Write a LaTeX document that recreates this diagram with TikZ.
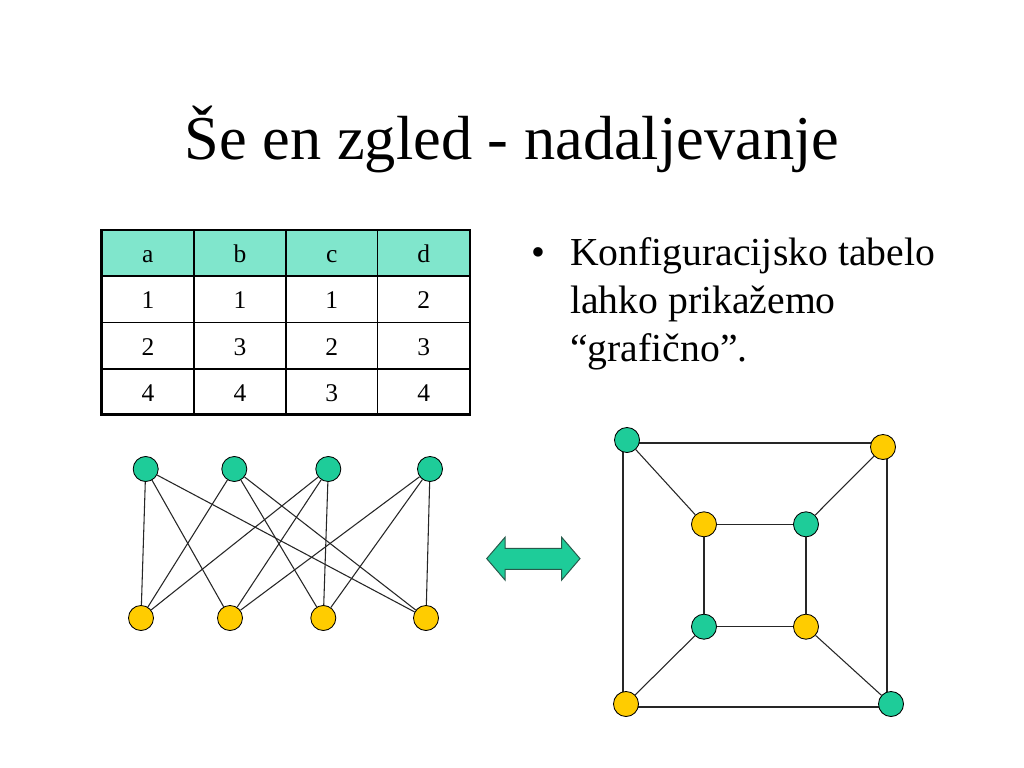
\documentclass[tikz,border=0pt]{standalone}
\usepackage{fontspec}
\setmainfont{Liberation Serif}
\usetikzlibrary{backgrounds}
\definecolor{nodegreen}{RGB}{30,204,153}
\definecolor{nodeyellow}{RGB}{255,204,0}
\definecolor{headteal}{RGB}{128,230,204}
\definecolor{arrowedge}{RGB}{40,90,75}
\begin{document}
\begin{tikzpicture}[x=0.703125bp,y=-0.703125bp,
  vtx/.style={circle,draw=black,line width=0.6bp,inner sep=0pt,minimum size=17.6bp},
  gv/.style={vtx,fill=nodegreen},
  yv/.style={vtx,fill=nodeyellow},
  edge/.style={line width=0.75bp,draw=black!85},
  cell/.style={anchor=base,inner sep=0pt,font=\fontsize{18}{21}\selectfont},
  body/.style={anchor=base west,inner sep=0pt,font=\fontsize{28}{34}\selectfont},
]
\useasboundingbox (0,0) rectangle (1024,768);

% title
\node[anchor=base,inner sep=0pt,font=\fontsize{44}{52}\selectfont] (title) at (512,160) {Še en zgled - nadaljevanje};

% bullet text
\node[anchor=base,inner sep=0pt,font=\fontsize{28}{34}\selectfont] (bullet) at (538,265) {•};
\node[body] (line1) at (570,265) {Konfiguracijsko tabelo};
\node[body] (line2) at (570,313) {lahko prikažemo};
\node[body] (line3) at (570,361) {“grafično”.};

% table
\fill[headteal] (101.7,230) rectangle (470,276);
\draw[line width=1bp]
  (194,230) -- (194,414.3)
  (286,230) -- (286,414.3)
  (377.3,230) -- (377.3,414.3)
  (101.7,276) -- (470,276)
  (101.7,322.3) -- (470,322.3)
  (101.7,369) -- (470,369);
\draw[line width=2bp] (101.7,230) rectangle (470,414.3);

\node[cell] (h1) at (147.9,262.5) {a};
\node[cell] (h2) at (240,262.5) {b};
\node[cell] (h3) at (331.7,262.5) {c};
\node[cell] (h4) at (423.7,262.5) {d};
\node[cell] (r1c1) at (147.9,308.7) {1};
\node[cell] (r1c2) at (240,308.7) {1};
\node[cell] (r1c3) at (331.7,308.7) {1};
\node[cell] (r1c4) at (423.7,308.7) {2};
\node[cell] (r2c1) at (147.9,355.2) {2};
\node[cell] (r2c2) at (240,355.2) {3};
\node[cell] (r2c3) at (331.7,355.2) {2};
\node[cell] (r2c4) at (423.7,355.2) {3};
\node[cell] (r3c1) at (147.9,401.2) {4};
\node[cell] (r3c2) at (240,401.2) {4};
\node[cell] (r3c3) at (331.7,401.2) {3};
\node[cell] (r3c4) at (423.7,401.2) {4};

% bipartite graph
\node[gv] (T1) at (145.7,469) {};
\node[gv] (T2) at (234.3,469) {};
\node[gv] (T3) at (328.3,469) {};
\node[gv] (T4) at (430,469) {};
\node[yv] (B1) at (141,618) {};
\node[yv] (B2) at (230,618) {};
\node[yv] (B3) at (323.3,618) {};
\node[yv] (B4) at (426,618) {};
\draw[edge] (T1) -- (B1) (T1) -- (B2) (T1) -- (B4);
\draw[edge] (T2) -- (B1) (T2) -- (B3) (T2) -- (B4);
\draw[edge] (T3) -- (B1) (T3) -- (B2) (T3) -- (B3);
\draw[edge] (T4) -- (B2) (T4) -- (B3) (T4) -- (B4);

% double arrow
\draw[fill=nodegreen,draw=arrowedge,line width=0.7bp,line join=miter]
  (486.7,558.6) -- (505,537.3) -- (505,548.3) -- (561.7,548.3) -- (561.7,537.3)
  -- (580,558.6) -- (561.7,580) -- (561.7,569.3) -- (505,569.3) -- (505,580) -- cycle;

% cube graph
\node[gv] (O1) at (627,440) {};
\node[yv] (O2) at (883,447) {};
\node[gv] (O3) at (891,704) {};
\node[yv] (O4) at (626,704) {};
\node[yv] (I1) at (704,524.3) {};
\node[gv] (I2) at (806,524.3) {};
\node[yv] (I3) at (806,626.7) {};
\node[gv] (I4) at (704,626.7) {};
\begin{scope}[on background layer]
\fill[white] (0,0) rectangle (1024,768);
\draw[edge] ([shift={(-4,3)}]O1.center) -- ([shift={(4,-4)}]O2.center);
\draw[edge] ([shift={(4,-4)}]O2.center) -- ([shift={(-4,3)}]O3.center);
\draw[edge] ([shift={(-4,3)}]O3.center) -- ([shift={(-3,3)}]O4.center);
\draw[edge] ([shift={(-3,3)}]O4.center) -- ([shift={(-4,3)}]O1.center);
\end{scope}
\draw[edge] (O1) -- (I1) (O2) -- (I2) (O3) -- (I3) (O4) -- (I4);
\draw[edge] (I1) -- (I2) (I2) -- (I3) (I3) -- (I4) (I4) -- (I1);
\end{tikzpicture}
\end{document}
